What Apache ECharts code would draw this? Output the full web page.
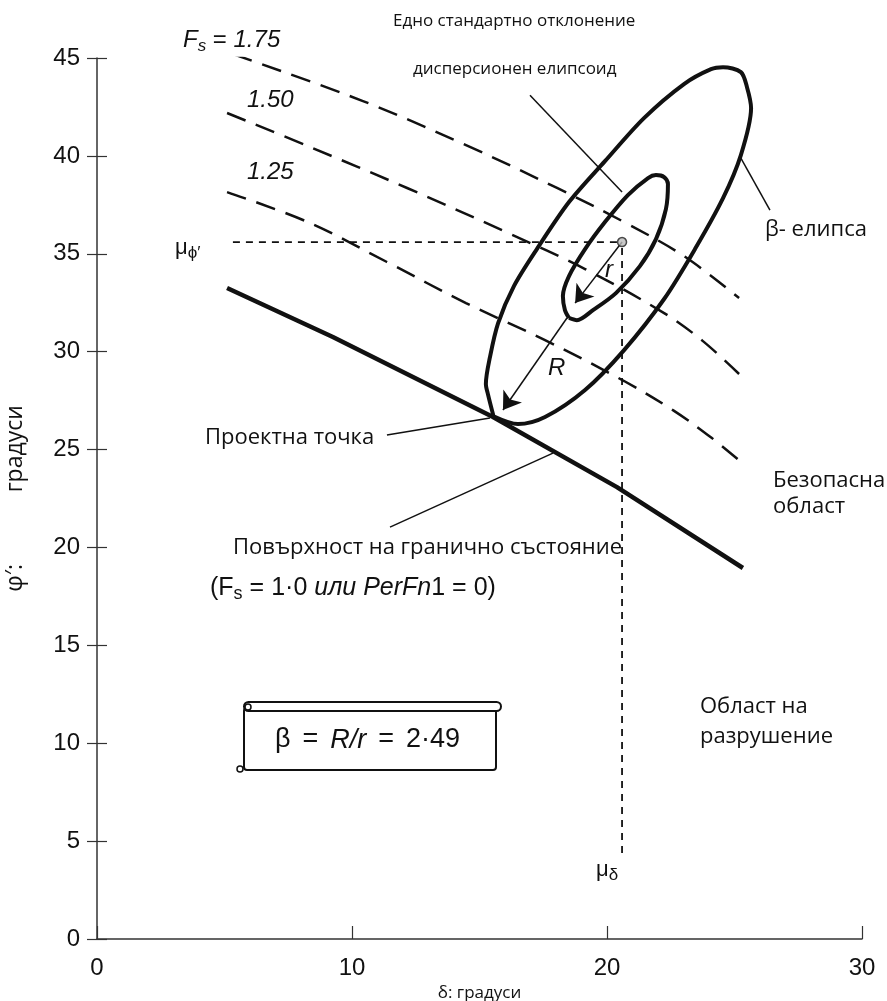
<!DOCTYPE html>
<html><head><meta charset="utf-8">
<script src="https://cdn.jsdelivr.net/npm/echarts@6.0.0/dist/echarts.min.js"></script>
<style>html,body{margin:0;padding:0;background:#fff}#c{width:887px;height:1001px}</style>
</head><body><div id="c"></div>
<script>
// ---- data (δ, φ′ in degrees) ----
const xTickValues = [0, 10, 20, 30];
const yTickValues = [0, 5, 10, 15, 20, 25, 30, 35, 40, 45];
const fs175 = [[5.33,45.2],[10.43,42.8],[14.47,40.55],[18.04,38.36],[20.67,36.62],[23.02,34.88],[25.18,32.74]];
const fs150 = [[5.10,42.19],[8.27,40.50],[12.16,38.36],[16.04,36.11],[19.14,34.22],[22.24,31.97],[23.75,30.55],[25.18,28.86]];
const fs125 = [[5.10,38.15],[8.27,36.62],[11.37,34.58],[14.47,32.48],[17.57,30.59],[20.67,28.50],[22.6,27.0],[24.1,25.6],[25.18,24.45]];
const limitState = [[5.10,33.25],[9.25,30.75],[15.53,26.66],[20.39,23.08],[25.33,18.95]];
const betaEllipse = [[15.55,26.7],[15.33,27.83],[15.25,28.35],[15.41,29.72],[15.73,31.46],[16.35,33.35],[17.25,35.24],[18.51,37.64],[19.92,39.73],[21.45,41.93],[23.02,43.67],[24.08,44.43],[24.55,44.53],[25.25,44.28],[25.49,43.51],[25.65,42.44],[25.25,40.04],[24.55,37.84],[23.45,35.24],[22.24,32.69],[20.67,30.08],[19.14,28.04],[17.57,26.66],[16.51,26.30],[15.55,26.7]];
const sdEllipse = [[18.51,31.72],[18.35,32.12],[18.27,32.84],[18.51,33.86],[19.14,35.24],[19.92,36.62],[20.82,38.00],[21.61,38.87],[21.92,39.02],[22.24,38.92],[22.39,38.57],[22.31,37.28],[21.92,35.75],[21.29,34.37],[20.35,32.99],[19.45,32.12],[18.82,31.61],[18.51,31.72]];
const meanPoint = [20.59, 35.6];
const muPhiLine = [[5.33,35.6],[20.59,35.6]];
const muDeltaLine = [[20.59,35.3],[20.59,4.3]];
const rArrow = [[20.59,35.6],[18.75,32.48]];
const RArrow = [[18.43,31.72],[15.92,27.02]];
const leaderDesign = [[11.37,25.74],[15.41,26.61]];
const leaderSurface = [[11.49,21.04],[17.88,24.82]];
const leaderSd = [[16.98,43.10],[20.59,38.15]];
const leaderBeta = [[25.25,39.89],[26.39,37.23]];

const chart = echarts.init(document.getElementById('c'), null, {renderer:'canvas'});
const sans = '"Open Sans", "Noto Sans", sans-serif';
const arial = '"Liberation Sans", Arial, sans-serif';
const dashed = (name, data) => ({type:'line', name, data, smooth:0.35, symbol:'none', silent:true,
  lineStyle:{color:'#111', width:2.5, type:[20,11]}});
const solid = (data, w, smooth) => ({type:'line', data, smooth, symbol:'none', silent:true,
  lineStyle:{color:'#111', width:w}});
const thin = (data, arrow) => ({type:'lines', coordinateSystem:'cartesian2d', silent:true,
  symbol: arrow ? ['none','arrow'] : ['none','none'], symbolSize:[11,17],
  lineStyle:{color:'#111', width:1.5, opacity:1}, data:[{coords:data}]});
const shortDash = data => ({type:'line', data, symbol:'none', silent:true,
  lineStyle:{color:'#111', width:1.8, type:[7,6]}});

const txt = (x, y, text, font, extra) => ({type:'text', x, y, silent:true,
  style:Object.assign({text, fill:'#111', font, align:'left', verticalAlign:'middle'}, extra||{})});

chart.setOption({
  animation:false,
  grid:{left:97, right:25, top:58, bottom:62, containLabel:false, outerBoundsMode:'none'},
  xAxis:{type:'value', min:0, max:30, interval:10,
    name:'δ: градуси', nameLocation:'middle', nameGap:44,
    nameTextStyle:{fontFamily:sans, fontSize:17, color:'#111'},
    axisLine:{lineStyle:{color:'#333', width:1.5}},
    axisTick:{inside:true, length:13, lineStyle:{color:'#333', width:1.2}},
    axisLabel:{fontFamily:arial, fontSize:24, color:'#111', margin:17,
      customValues: xTickValues},
    splitLine:{show:false}},
  yAxis:[{type:'value', min:0, max:45, interval:5,
    name:'φ′:            градуси', nameLocation:'middle', nameGap:70, nameRotate:90,
    nameTextStyle:{fontFamily:sans, fontSize:23, color:'#111'},
    axisLine:{lineStyle:{color:'#333', width:1.5}},
    axisTick:{length:10, lineStyle:{color:'#333', width:1.2}},
    axisLabel:{fontFamily:arial, fontSize:24, color:'#111', margin:17, customValues: yTickValues},
    splitLine:{show:false}},
   {type:'value', min:0, max:45, interval:5, position:'left',
    axisLine:{show:false}, axisTick:{inside:true, length:10, lineStyle:{color:'#333', width:1.2}},
    axisLabel:{show:false}, splitLine:{show:false}}],
  series:[
    dashed('1.75', fs175), dashed('1.50', fs150), dashed('1.25', fs125),
    solid(limitState, 4.5, false),
    solid(betaEllipse, 4, 0.3),
    solid(sdEllipse, 4, 0.3),
    shortDash(muPhiLine), shortDash(muDeltaLine),
    thin(rArrow, true), thin(RArrow, true),
    thin(leaderDesign, false), thin(leaderSurface, false), thin(leaderSd, false), thin(leaderBeta, false),
    {type:'scatter', data:[meanPoint], symbolSize:9, silent:true,
      itemStyle:{color:'#bbb', borderColor:'#222', borderWidth:1.5}}
  ],
  graphic:[
    txt(393, 21, 'Едно стандартно отклонение', '17px ' + sans),
    txt(413, 69, 'дисперсионен елипсоид', '17px ' + sans),
    {type:'text', x:183, y:40, silent:true, style:{text:'{i|F}{s|s}{n| = }{i|1.75}', align:'left', verticalAlign:'middle',
      rich:{i:{font:'italic 24px ' + arial, fill:'#111'}, s:{font:'italic 17px ' + arial, fill:'#111', padding:[12,0,0,0]}, n:{font:'24px ' + arial, fill:'#111'}}}},
    txt(247, 100, '1.50', 'italic 24px ' + arial),
    txt(247, 172, '1.25', 'italic 24px ' + arial),
    {type:'text', x:175, y:248, silent:true, style:{text:'{m|μ}{s|ϕ′}', align:'left', verticalAlign:'middle',
      rich:{m:{font:'22px ' + arial, fill:'#111'}, s:{font:'17px ' + arial, fill:'#111', padding:[10,0,0,0]}}}},
    txt(765, 230, 'β- елипса', '22px ' + sans),
    txt(205, 438, 'Проектна точка', '22px ' + sans),
    txt(773, 481, 'Безопасна', '22px ' + sans),
    txt(773, 507, 'област', '22px ' + sans),
    txt(233, 548, 'Повърхност на гранично състояние', '22px ' + sans),
    {type:'text', x:210, y:588, silent:true, style:{text:'{n|(F}{s|s}{e|=}{n|1·0 }{i|или PerFn}{n|1}{e|=}{n|0)}', align:'left', verticalAlign:'middle',
      rich:{n:{font:'25px ' + arial, fill:'#111'}, e:{font:'25px ' + arial, fill:'#111', padding:[0,7,0,7]}, i:{font:'italic 25px ' + arial, fill:'#111'}, s:{font:'18px ' + arial, fill:'#111', padding:[12,0,0,0]}}}},
    txt(700, 707, 'Област на', '22px ' + sans),
    txt(700, 737, 'разрушение', '22px ' + sans),
    {type:'text', x:596, y:870, silent:true, style:{text:'{m|μ}{s|δ}', align:'left', verticalAlign:'middle',
      rich:{m:{font:'22px ' + arial, fill:'#111'}, s:{font:'17px ' + arial, fill:'#111', padding:[10,0,0,0]}}}},
    txt(605, 270, 'r', 'italic 24px ' + arial),
    txt(548, 368, 'R', 'italic 24px ' + arial),
    // scroll-shaped box around β = R/r
    {type:'rect', shape:{x:244, y:708, width:252, height:62, r:3}, silent:true, style:{fill:'none', stroke:'#111', lineWidth:2}},
    {type:'rect', shape:{x:244, y:702, width:257, height:9, r:4.5}, silent:true, style:{fill:'#fff', stroke:'#111', lineWidth:2}},
    {type:'circle', shape:{cx:248, cy:707, r:3}, silent:true, style:{fill:'#fff', stroke:'#111', lineWidth:1.5}},
    {type:'circle', shape:{cx:240, cy:769, r:3}, silent:true, style:{fill:'#fff', stroke:'#111', lineWidth:1.5}},
    {type:'text', x:275, y:740, silent:true, style:{text:'{n|β}{e|=}{i|R/r}{e|=}{n|2·49}', align:'left', verticalAlign:'middle',
      rich:{n:{font:'27px ' + arial, fill:'#111'}, e:{font:'27px ' + arial, fill:'#111', padding:[0,12,0,12]}, i:{font:'italic 27px ' + arial, fill:'#111'}}}}
  ]
});
</script></body></html>
